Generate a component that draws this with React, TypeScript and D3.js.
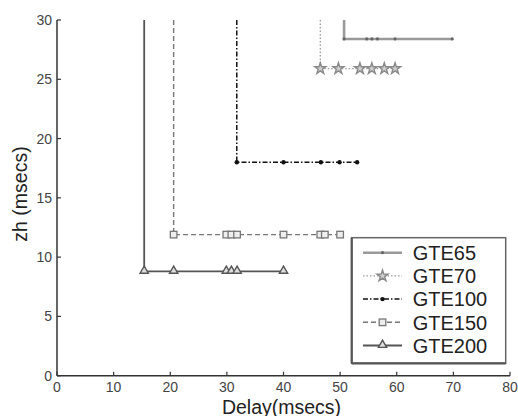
import React from "react";
import * as d3 from "d3";

const seriesNames = ["GTE65", "GTE70", "GTE100", "GTE150", "GTE200"];
const gte65X = [50.7, 50.7, 54.7, 55.6, 56.6, 59.7, 69.8];
const gte65Y = [30, 28.4, 28.4, 28.4, 28.4, 28.4, 28.4];
const gte70X = [46.5, 46.5, 49.7, 53.5, 55.6, 57.8, 59.7];
const gte70Y = [30, 25.9, 25.9, 25.9, 25.9, 25.9, 25.9];
const gte100X = [31.75, 31.75, 40.0, 46.6, 49.9, 53.0];
const gte100Y = [30, 18.0, 18.0, 18.0, 18.0, 18.0];
const gte150X = [20.6, 20.6, 29.9, 30.8, 31.8, 40.0, 46.5, 47.3, 50.0];
const gte150Y = [30, 11.9, 11.9, 11.9, 11.9, 11.9, 11.9, 11.9, 11.9];
const gte200X = [15.4, 15.4, 20.6, 29.9, 30.8, 31.8, 40.0];
const gte200Y = [30, 8.8, 8.8, 8.8, 8.8, 8.8, 8.8];
const xTicks = [0, 10, 20, 30, 40, 50, 60, 70, 80];
const yTicks = [0, 5, 10, 15, 20, 25, 30];

type Style = {
  stroke: string;
  width: number;
  dash: string | undefined;
  marker: "dot" | "star" | "bigdot" | "square" | "triangle";
  mColor: string;
};

const styles: Style[] = [
  { stroke: "#9a9a9a", width: 2.6, dash: undefined, marker: "dot", mColor: "#666" },
  { stroke: "#9a9a9a", width: 1.3, dash: "1.5,2", marker: "star", mColor: "#8a8a8a" },
  { stroke: "#111", width: 1.5, dash: "5,2,1.5,2", marker: "bigdot", mColor: "#111" },
  { stroke: "#777", width: 1.4, dash: "5,3", marker: "square", mColor: "#777" },
  { stroke: "#555", width: 1.8, dash: undefined, marker: "triangle", mColor: "#555" },
];

const allX = [gte65X, gte70X, gte100X, gte150X, gte200X];
const allY = [gte65Y, gte70Y, gte100Y, gte150Y, gte200Y];

const W = 518;
const H = 416;
const left = 57;
const right = 510;
const top = 20;
const bottom = 375.7;

const font = "'Liberation Sans', Arial, sans-serif";

function Marker({ kind, x, y, color }: { kind: Style["marker"]; x: number; y: number; color: string }) {
  if (kind === "dot") return <circle cx={x} cy={y} r={1.6} fill={color} />;
  if (kind === "bigdot") return <circle cx={x} cy={y} r={2.2} fill={color} />;
  if (kind === "star") {
    const p = d3.symbol().type(d3.symbolStar).size(38)();
    return <path d={p || ""} transform={`translate(${x},${y})`} fill="#d0d0d0" stroke={color} strokeWidth={1.4} />;
  }
  if (kind === "square") return <rect x={x - 3.3} y={y - 3.3} width={6.6} height={6.6} fill="#eee" stroke={color} strokeWidth={1.3} />;
  const p = d3.symbol().type(d3.symbolTriangle).size(30)();
  return <path d={p || ""} transform={`translate(${x},${y - 0.5})`} fill="#ddd" stroke={color} strokeWidth={1.4} />;
}

export default function App() {
  const x = d3.scaleLinear().domain([0, 80]).range([left, right]);
  const y = d3.scaleLinear().domain([0, 30]).range([bottom, top]);
  const line = d3.line<[number, number]>().x((d) => x(d[0])).y((d) => y(d[1]));

  const legLeft = 351.7, legTop = 237.7, legW = 154, legH = 125.6;
  const rowY0 = 252.7, rowStep = 23.2;

  return (
    <svg width={W} height={H} style={{ position: "absolute", left: 0, top: 0, background: "white" }} fontFamily={font}>
      <rect width={W} height={H} fill="white" />
      {allX.map((xs, i) => {
        const pts = xs.map((v, j) => [v, allY[i][j]] as [number, number]);
        const s = styles[i];
        return (
          <g key={seriesNames[i]}>
            <path d={line(pts) || ""} fill="none" stroke={s.stroke} strokeWidth={s.width} strokeDasharray={s.dash} />
            {pts.filter((p) => p[1] < 30).map((p, j) => (
              <Marker key={j} kind={s.marker} x={x(p[0])} y={y(p[1])} color={s.mColor} />
            ))}
          </g>
        );
      })}
      {/* axes */}
      <line x1={left} x2={left} y1={top} y2={bottom} stroke="#333" strokeWidth={1.5} />
      <line x1={left} x2={right} y1={bottom} y2={bottom} stroke="#333" strokeWidth={1.5} />
      {xTicks.map((t) => (
        <g key={"x" + t}>
          <line x1={x(t)} x2={x(t)} y1={bottom} y2={bottom - 4} stroke="#333" strokeWidth={1.2} />
          <text x={x(t)} y={392} textAnchor="middle" fontSize={14} fill="#444">{t}</text>
        </g>
      ))}
      {yTicks.map((t) => (
        <g key={"y" + t}>
          <line x1={left} x2={left + 4} y1={y(t)} y2={y(t)} stroke="#333" strokeWidth={1.2} />
          <text x={52} y={y(t) + 5} textAnchor="end" fontSize={14} fill="#444">{t}</text>
        </g>
      ))}
      <text x={281.5} y={413.5} textAnchor="middle" fontSize={19.5} fill="#222">Delay(msecs)</text>
      <text transform={`translate(27,194) rotate(-90)`} textAnchor="middle" fontSize={19.5} fill="#222">zh (msecs)</text>
      {/* legend */}
      <rect x={legLeft} y={legTop} width={legW} height={legH} fill="white" stroke="#666" strokeWidth={1.5} />
      <line x1={legLeft} x2={legLeft + legW} y1={legTop + legH} y2={legTop + legH} stroke="#555" strokeWidth={2.2} />
      <line x1={legLeft} x2={legLeft} y1={legTop} y2={legTop + legH} stroke="#555" strokeWidth={2.2} />
      {seriesNames.map((n, i) => {
        const s = styles[i];
        const cy = rowY0 + i * rowStep;
        return (
          <g key={"leg" + n}>
            <line x1={363} x2={402} y1={cy} y2={cy} stroke={s.stroke} strokeWidth={s.width} strokeDasharray={s.dash} />
            <Marker kind={s.marker} x={382.5} y={cy} color={s.mColor} />
            <text x={412.7} y={cy + 7.2} fontSize={20} fill="#222">{n}</text>
          </g>
        );
      })}
    </svg>
  );
}
